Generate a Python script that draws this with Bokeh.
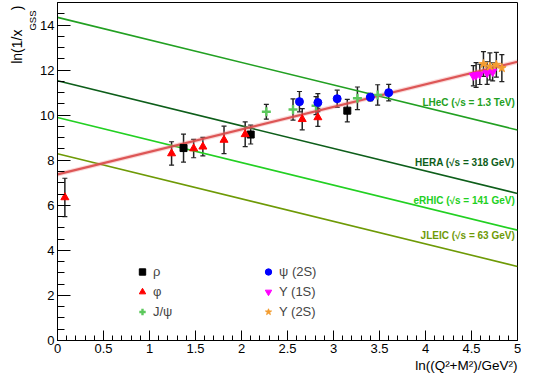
import math
import numpy as np
from bokeh.plotting import figure
from bokeh.models import (ColumnDataSource, Whisker, TeeHead, Label, Legend, LegendItem, Title,
                          SingleIntervalTicker, NumeralTickFormatter, Range1d)
from bokeh.embed import file_html
from bokeh.resources import INLINE

# ---------------- data ----------------
rho_x = [1.37, 2.10, 3.15]
rho_y = [8.54, 9.14, 10.20]
rho_err = [0.62, 0.42, 0.50]

phi_x = [0.08, 1.24, 1.48, 1.58, 1.81, 2.04, 2.66, 2.83]
phi_y = [6.35, 8.30, 8.52, 8.60, 8.90, 9.15, 9.82, 9.90]
phi_err = [0.85, 0.52, 0.41, 0.41, 0.61, 0.55, 0.47, 0.40]

jpsi_x = [2.27, 2.56, 2.81, 3.26, 3.48]
jpsi_y = [10.15, 10.25, 10.42, 10.75, 10.90]
jpsi_err = [0.33, 0.47, 0.40, 0.50, 0.45]

psi2s_x = [2.63, 2.83, 3.04, 3.40, 3.60]
psi2s_y = [10.60, 10.56, 10.73, 10.80, 11.00]
psi2s_err = [0.45, 0.40, 0.38, 0.17, 0.37]

ups1s_x = [4.52, 4.55, 4.59, 4.67, 4.73]
ups1s_y = [11.75, 11.78, 11.81, 11.87, 11.92]
ups1s_err = [0.45, 0.55, 0.45, 0.50, 0.40]

ups2s_x = [4.63, 4.70, 4.77, 4.83]
ups2s_y = [12.27, 12.16, 12.24, 12.09]
ups2s_err = [0.55, 0.60, 0.55, 0.60]

fit_intercept = 7.37
fit_slope = 1.0

colliders = ["LHeC", "HERA", "eRHIC", "JLEIC"]
collider_sqrt_s = [1300.0, 318.0, 141.0, 63.0]
collider_texts = ["LHeC (\u221as = 1.3 TeV)", "HERA (\u221as = 318 GeV)",
                  "eRHIC (\u221as = 141 GeV)", "JLEIC (\u221as = 63 GeV)"]
collider_label_y = [10.57, 7.90, 6.23, 4.65]
collider_colors = ["#22a022", "#0d5e1a", "#22d022", "#6e9a06"]

X_MIN, X_MAX = 0.0, 5.0
Y_MIN, Y_MAX = 0.0, 15.0

FONT = "Liberation Sans"

p = figure(width=521, height=375, output_backend="svg", toolbar_location=None,
           x_range=Range1d(X_MIN, X_MAX), y_range=Range1d(Y_MIN, Y_MAX),
           min_border_left=57, min_border_right=4, min_border_top=2, min_border_bottom=35)
p.grid.visible = False
p.outline_line_color = "black"
p.outline_line_width = 1
p.background_fill_color = "white"
p.border_fill_color = "white"

# axes
p.xaxis.ticker = SingleIntervalTicker(interval=0.5, num_minor_ticks=5)
p.yaxis.ticker = SingleIntervalTicker(interval=2, num_minor_ticks=4)
p.xaxis.formatter = NumeralTickFormatter(format="0.[0]")
for ax in (p.xaxis, p.yaxis):
    ax.axis_line_color = "black"
    ax.major_tick_line_color = "black"
    ax.minor_tick_line_color = "black"
    ax.major_tick_out = 0
    ax.minor_tick_out = 0
    ax.major_label_text_font = FONT
    ax.major_label_text_font_size = "13px"
    ax.major_label_text_color = "black"
p.yaxis.major_tick_in = 13
p.yaxis.minor_tick_in = 7
p.xaxis.major_tick_in = 10
p.xaxis.minor_tick_in = 5
p.yaxis.major_label_standoff = 3
p.xaxis.major_label_standoff = 3

# collider lines: ln(1/x) = ln(s) - ln(Q2+M2)
for name, rs, col, txt, ly in zip(colliders, collider_sqrt_s, collider_colors,
                                  collider_texts, collider_label_y):
    c = math.log(rs ** 2)
    p.line([X_MIN, X_MAX], [c - X_MIN, c - X_MAX], line_color=col, line_width=1.6)
    p.add_layout(Label(x=4.97, y=ly, text=txt, text_align="right", text_baseline="middle",
                       text_color=col, text_font=FONT, text_font_size="10px",
                       text_font_style="bold"))

# fit line
fx = [X_MIN, X_MAX]
fy = [fit_intercept + fit_slope * v for v in fx]
p.line(fx, fy, line_color="#f29090", line_width=4.5, line_alpha=0.35)
p.line(fx, fy, line_color="#d94848", line_width=2.2, line_alpha=0.9)

series = [
    ("\u03c1", rho_x, rho_y, rho_err, "square", "black", 7),
    ("\u03c6", phi_x, phi_y, phi_err, "triangle", "red", 8),
    ("J/\u03c8", jpsi_x, jpsi_y, jpsi_err, "cross", "#5cc85c", 9),
    ("\u03c8 (2S)", psi2s_x, psi2s_y, psi2s_err, "circle", "blue", 8),
    ("\u03a5 (1S)", ups1s_x, ups1s_y, ups1s_err, "inverted_triangle", "magenta", 8),
    ("\u03a5 (2S)", ups2s_x, ups2s_y, ups2s_err, "star", "#f39c2f", 9),
]

items = []
for name, xs, ys, es, marker, col, size in series:
    xs = np.array(xs); ys = np.array(ys); es = np.array(es)
    src = ColumnDataSource(dict(x=xs, y=ys, lo=ys - es, hi=ys + es))
    w = Whisker(source=src, base="x", upper="hi", lower="lo", dimension="height",
                line_color="#222222", line_width=1.5,
                upper_head=TeeHead(size=5, line_color="#222222", line_width=1.2),
                lower_head=TeeHead(size=5, line_color="#222222", line_width=1.2))
    p.add_layout(w)
    lw = 2.4 if marker == "cross" else 1
    r = p.scatter("x", "y", source=src, marker=marker, size=size, fill_color=col,
                  line_color=col, line_width=lw)
    items.append(LegendItem(label=name, renderers=[r]))

def make_legend(its, x, y):
    return Legend(items=its, location=(x, y), border_line_alpha=0,
                  background_fill_alpha=0, label_text_font=FONT,
                  label_text_font_size="13px", glyph_width=16, glyph_height=17,
                  label_height=17, spacing=3, padding=0, margin=0, label_standoff=3)

p.add_layout(make_legend(items[:3], 77, 20))
p.add_layout(make_legend(items[3:], 203, 20))

# axis titles
p.add_layout(Title(text="ln((Q\u00b2+M\u00b2)/GeV\u00b2)", align="right", standoff=0,
                   text_font=FONT, text_font_size="13.5px", text_font_style="normal",
                   text_color="black"), "below")
p.add_layout(Title(text="GSS", align="right", offset=8, standoff=0,
                   text_font=FONT, text_font_size="9.5px", text_font_style="normal",
                   text_color="black"), "left")
p.add_layout(Title(text="ln(1/x\u00a0\u00a0\u00a0\u00a0\u00a0)", align="right", offset=3,
                   standoff=0, text_font=FONT, text_font_size="14px",
                   text_font_style="normal", text_color="black"), "left")

open("out.html", "w").write(file_html(p, INLINE))
